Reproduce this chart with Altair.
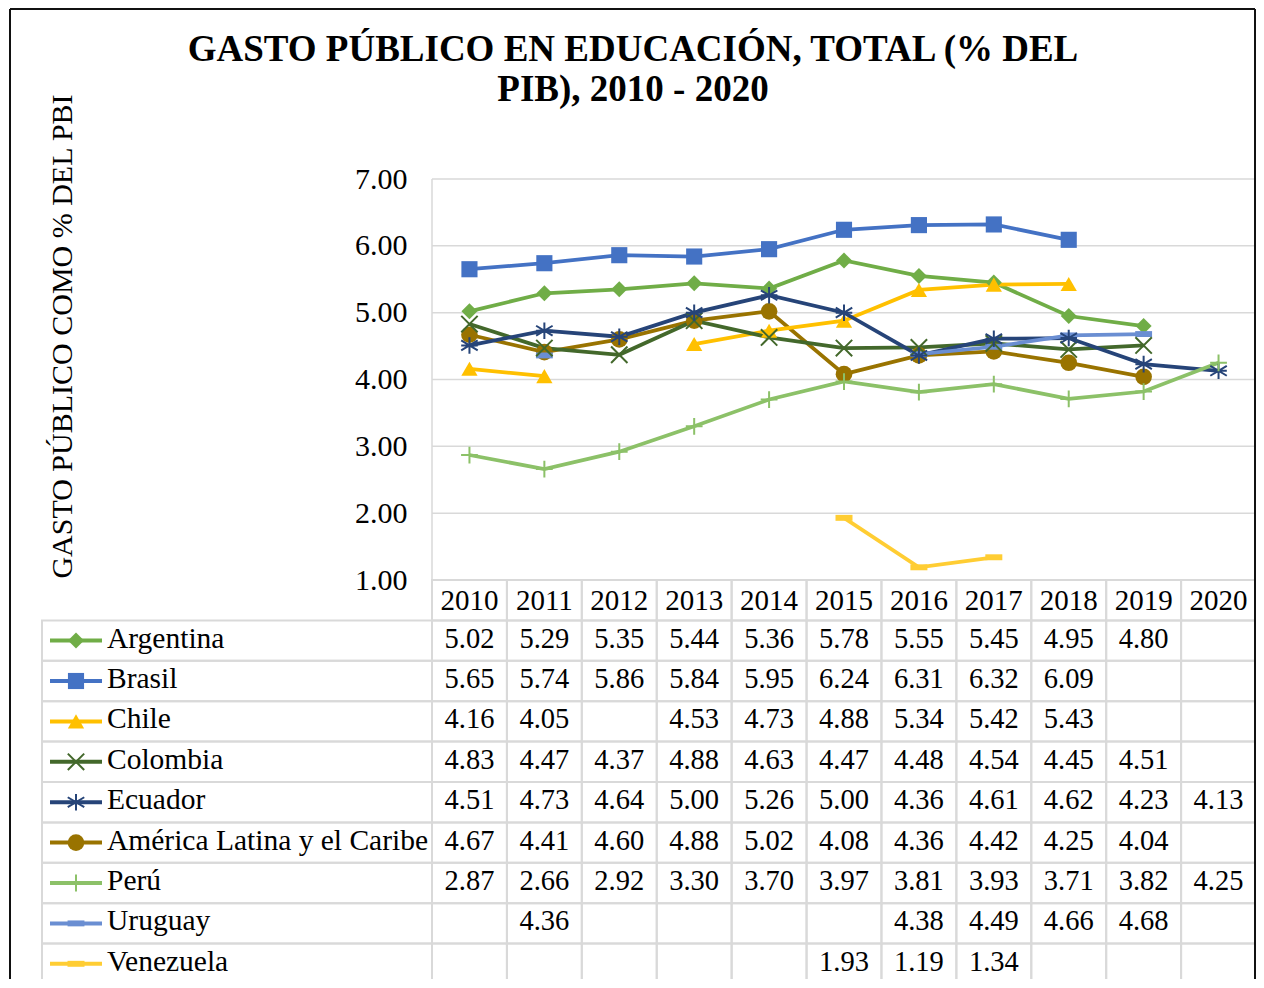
import altair as alt
import pandas as pd

# ---------------- data ----------------
YEARS = list(range(2010, 2021))
SERIES = ["Argentina", "Brasil", "Chile", "Colombia", "Ecuador",
          "América Latina y el Caribe", "Perú", "Uruguay", "Venezuela"]

argentina = [5.02, 5.29, 5.35, 5.44, 5.36, 5.78, 5.55, 5.45, 4.95, 4.80, None]
brasil = [5.65, 5.74, 5.86, 5.84, 5.95, 6.24, 6.31, 6.32, 6.09, None, None]
chile = [4.16, 4.05, None, 4.53, 4.73, 4.88, 5.34, 5.42, 5.43, None, None]
colombia = [4.83, 4.47, 4.37, 4.88, 4.63, 4.47, 4.48, 4.54, 4.45, 4.51, None]
ecuador = [4.51, 4.73, 4.64, 5.00, 5.26, 5.00, 4.36, 4.61, 4.62, 4.23, 4.13]
america_latina = [4.67, 4.41, 4.60, 4.88, 5.02, 4.08, 4.36, 4.42, 4.25, 4.04, None]
peru = [2.87, 2.66, 2.92, 3.30, 3.70, 3.97, 3.81, 3.93, 3.71, 3.82, 4.25]
uruguay = [None, 4.36, None, None, None, None, 4.38, 4.49, 4.66, 4.68, None]
venezuela = [None, None, None, None, None, 1.93, 1.19, 1.34, None, None, None]

VALUES = [argentina, brasil, chile, colombia, ecuador, america_latina, peru, uruguay, venezuela]

COLORS = ["#70AD47", "#4472C4", "#FFC000", "#43682B", "#264478",
          "#997300", "#8CC168", "#6A8ED2", "#FFCD33"]
SHAPES = ["diamond", "square", "triangle-up",
          "M-1,-1L1,1M-1,1L1,-1",
          "M0,-1V1M-1,-0.6L1,0.6M-1,0.6L1,-0.6M-1,0H1",
          "circle",
          "M0,-1V1M-1,0H1",
          "M-1,-0.35H1V0.35H-1Z",
          "M-1,-0.35H1V0.35H-1Z"]
SIZES = [256, 289, 289, 196, 256, 289, 256, 225, 225]
FILLED = ["Argentina", "Brasil", "Chile", "América Latina y el Caribe", "Uruguay", "Venezuela"]
STROKED = ["Colombia", "Ecuador", "Perú"]

TITLE_LINES = ["GASTO PÚBLICO EN EDUCACIÓN, TOTAL (% DEL", "PIB), 2010 - 2020"]
Y_TITLE = "GASTO PÚBLICO COMO % DEL PBI"
Y_TICKS = [1, 2, 3, 4, 5, 6, 7]
HEADER_KEY = "Año"

# ---------------- layout constants ----------------
FONT = "Liberation Serif"
W, H = 1246, 971
PLOT_LEFT_PX = 422          # plot area left edge inside the frame
COL_W = (W - PLOT_LEFT_PX) / len(YEARS)
LEGEND_W_PX = 390
X0 = YEARS[0] - 0.5 - PLOT_LEFT_PX / COL_W
X1 = YEARS[-1] + 0.5
LEG_X0 = YEARS[0] - 0.5 - LEGEND_W_PX / COL_W
PLOT_TOP, PLOT_BOTTOM = 171, 572
ROW_H = 40.4
ROWS = [HEADER_KEY] + SERIES
TABLE_RANGE = [PLOT_BOTTOM, PLOT_BOTTOM + ROW_H * len(ROWS)]
GRID = "#d9d9d9"
FRAME = "#111111"

# ---------------- frames ----------------
records = []
for s, vals in zip(SERIES, VALUES):
    for y, v in zip(YEARS, vals):
        records.append({"series": s, "year": y, "value": v})
df = pd.DataFrame(records)
valid = df.dropna(subset=["value"]).copy()
valid = valid.sort_values(["series", "year"])
valid["seg"] = valid.groupby("series")["year"].transform(lambda s: (s.diff() != 1).cumsum())
valid["segkey"] = valid["series"] + "-" + valid["seg"].astype(str)

df_grid = pd.DataFrame({"v": Y_TICKS, "x0": X1 - len(YEARS), "x1": X1})
df_vline = pd.DataFrame({"x": [X1 - len(YEARS)], "v0": [Y_TICKS[0]], "v1": [Y_TICKS[-1]]})

cells = []
for r in ROWS:
    for y in YEARS:
        cells.append({"row": r, "x0": y - 0.5, "x1": y + 0.5})
    if r != HEADER_KEY:
        cells.append({"row": r, "x0": LEG_X0, "x1": YEARS[0] - 0.5})
df_cells = pd.DataFrame(cells)
df_header = pd.DataFrame({"row": HEADER_KEY, "year": YEARS, "label": [str(y) for y in YEARS]})
df_leg = pd.DataFrame({"series": SERIES})
df_one = pd.DataFrame({"k": [0]})

# ---------------- scales ----------------
xs = alt.Scale(domain=[X0, X1], nice=False, zero=False)
vs = alt.Scale(domain=[Y_TICKS[0], Y_TICKS[-1]], range=[PLOT_BOTTOM, PLOT_TOP], nice=False, zero=False)
band = alt.Scale(type="band", domain=ROWS, range=TABLE_RANGE, paddingInner=0, paddingOuter=0)
pts = alt.Scale(type="point", domain=ROWS, range=TABLE_RANGE, padding=0.5)
color = alt.Color("series:N", scale=alt.Scale(domain=SERIES, range=COLORS), legend=None)
shape = alt.Shape("series:N", scale=alt.Scale(domain=SERIES, range=SHAPES), legend=None)
size = alt.Size("series:N", scale=alt.Scale(domain=SERIES, range=SIZES), legend=None)

y_axis = alt.Axis(values=Y_TICKS, format=".2f", offset=-PLOT_LEFT_PX, labelFont=FONT, labelFontSize=30,
                  labelColor="black", labelPadding=25, labelFlush=False, ticks=False, domain=False,
                  grid=False, title=Y_TITLE, titleFont=FONT, titleFontSize=30, titleFontWeight="normal",
                  titleColor="black", titleAngle=270, titleX=52 - PLOT_LEFT_PX, titleY=328,
                  titleAlign="center", titleBaseline="middle")

grid = alt.Chart(df_grid).mark_rule(color=GRID, strokeWidth=1.5).encode(
    x=alt.X("x0:Q", scale=xs, axis=None), x2="x1:Q",
    y=alt.Y("v:Q", scale=vs, axis=y_axis))
vline = alt.Chart(df_vline).mark_rule(color=GRID, strokeWidth=1.5).encode(
    x=alt.X("x:Q", scale=xs, axis=None),
    y=alt.Y("v0:Q", scale=vs, axis=None), y2="v1:Q")

lines = alt.Chart(valid).mark_line(strokeWidth=3.75).encode(
    x=alt.X("year:Q", scale=xs, axis=None),
    y=alt.Y("value:Q", scale=vs, axis=None),
    color=color, detail="segkey:N", order="year:Q")

pts_f = alt.Chart(valid[valid.series.isin(FILLED)]).mark_point(filled=True, opacity=1).encode(
    x=alt.X("year:Q", scale=xs, axis=None),
    y=alt.Y("value:Q", scale=vs, axis=None),
    color=color, shape=shape, size=size)
pts_s = alt.Chart(valid[valid.series.isin(STROKED)]).mark_point(filled=False, opacity=1, strokeWidth=2).encode(
    x=alt.X("year:Q", scale=xs, axis=None),
    y=alt.Y("value:Q", scale=vs, axis=None),
    color=color, shape=shape, size=size)

cell_rects = alt.Chart(df_cells).mark_rect(fillOpacity=0, stroke=GRID, strokeWidth=2).encode(
    x=alt.X("x0:Q", scale=xs, axis=None), x2="x1:Q",
    y=alt.Y("row:N", scale=band, axis=None))

header_text = alt.Chart(df_header).mark_text(font=FONT, fontSize=29, color="black",
                                             align="center", baseline="middle", dy=1).encode(
    x=alt.X("year:Q", scale=xs, axis=None),
    y=alt.Y("row:N", scale=pts, axis=None), text="label:N")

value_text = alt.Chart(valid).mark_text(font=FONT, fontSize=28.5, color="black",
                                        align="center", baseline="middle", dy=-2).encode(
    x=alt.X("year:Q", scale=xs, axis=None),
    y=alt.Y("series:N", scale=pts, axis=None),
    text=alt.Text("value:Q", format=".2f"))

leg_line = alt.Chart(df_leg).mark_rule(strokeWidth=4).encode(
    x=alt.value(40), x2=alt.value(92),
    y=alt.Y("series:N", scale=pts, axis=None), color=color)
leg_pf = alt.Chart(df_leg[df_leg.series.isin(FILLED)]).mark_point(filled=True, opacity=1).encode(
    x=alt.value(66), y=alt.Y("series:N", scale=pts, axis=None), color=color, shape=shape, size=size)
leg_ps = alt.Chart(df_leg[df_leg.series.isin(STROKED)]).mark_point(filled=False, opacity=1, strokeWidth=2).encode(
    x=alt.value(66), y=alt.Y("series:N", scale=pts, axis=None), color=color, shape=shape, size=size)
leg_text = alt.Chart(df_leg).mark_text(font=FONT, fontSize=29.5, color="black",
                                       align="left", baseline="middle", dy=-2).encode(
    x=alt.value(97), y=alt.Y("series:N", scale=pts, axis=None), text="series:N")

# chart-area frame (left, top, right edges; the bottom is below the window)
frame_top = alt.Chart(df_one).mark_rule(color=FRAME, strokeWidth=2).encode(
    x=alt.value(0), x2=alt.value(W - 1), y=alt.value(1))
frame_left = alt.Chart(df_one).mark_rule(color=FRAME, strokeWidth=2).encode(
    x=alt.value(0), y=alt.value(1), y2=alt.value(H))
frame_right = alt.Chart(df_one).mark_rule(color=FRAME, strokeWidth=2).encode(
    x=alt.value(W - 1), y=alt.value(1), y2=alt.value(H))

chart = alt.layer(
    grid, vline, cell_rects, lines, pts_f, pts_s, header_text, value_text,
    leg_line, leg_pf, leg_ps, leg_text, frame_top, frame_left, frame_right
).resolve_scale(y="independent").properties(
    width=W, height=H,
    autosize=alt.AutoSizeParams(type="none"),
    padding={"left": 2, "top": 0, "right": 0, "bottom": 0},
    title=alt.Title(TITLE_LINES, font=FONT, fontSize=37, fontWeight="bold", color="black",
                    anchor="middle", frame="group", offset=-101, lineHeight=40),
).configure_view(stroke=None)

chart.save("out.html", embed_options={"renderer": "svg", "actions": False})
